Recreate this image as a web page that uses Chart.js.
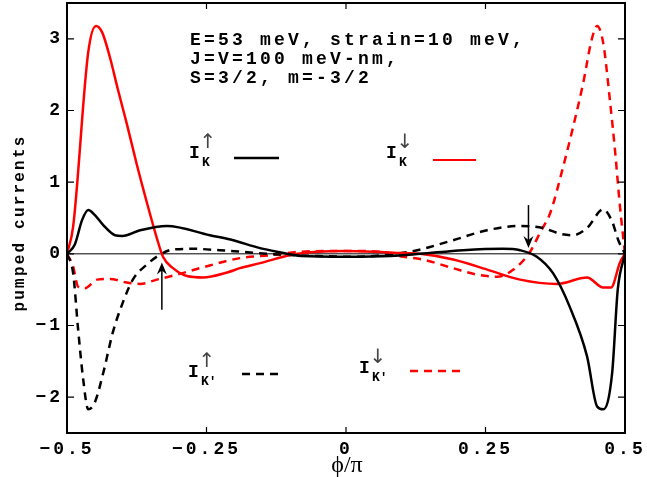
<!DOCTYPE html>
<html>
<head>
<meta charset="utf-8">
<script src="https://cdn.jsdelivr.net/npm/chart.js@4/dist/chart.umd.min.js"></script>
<style>
  body { margin: 0; background: #fff; }
  canvas { display: block; }
</style>
</head>
<body>
<canvas id="pumpChart" width="647" height="477"></canvas>
<script>
// tick positions
const xTicks = [-0.5, -0.25, 0, 0.25, 0.5];
const yTicks = [-2, -1, 0, 1, 2, 3];

// I_K up (black solid)
const phiKup = [-0.5, -0.486, -0.473, -0.462, -0.45, -0.435, -0.414, -0.401, -0.369, -0.321, -0.244, -0.207, -0.154, -0.124, -0.08, 0, 0.08, 0.133, 0.21, 0.281, 0.312, 0.342, 0.371, 0.401, 0.432, 0.45, 0.461, 0.477, 0.487, 0.5];
const iKup = [0, 0.13, 0.47, 0.61, 0.54, 0.40, 0.26, 0.25, 0.33, 0.39, 0.26, 0.20, 0.08, 0.03, -0.03, -0.04, -0.03, 0.0, 0.05, 0.07, 0.05, -0.04, -0.27, -0.74, -1.43, -2.13, -2.17, -1.66, -0.5, 0];

// I_K down (red solid)
const phiKdn = [-0.5, -0.489, -0.462, -0.448, -0.437, -0.423, -0.409, -0.393, -0.375, -0.357, -0.339, -0.328, -0.31, -0.285, -0.256, -0.213, -0.19, -0.154, -0.095, -0.05, 0, 0.05, 0.1, 0.133, 0.192, 0.253, 0.312, 0.378, 0.432, 0.461, 0.475, 0.491, 0.5];
const iKdn = [0, 0.38, 2.81, 3.18, 3.09, 2.74, 2.3, 1.82, 1.25, 0.72, 0.22, -0.04, -0.2, -0.31, -0.33, -0.26, -0.2, -0.13, -0.01, 0.03, 0.04, 0.03, 0.01, 0.0, -0.08, -0.22, -0.36, -0.42, -0.33, -0.47, -0.47, -0.12, 0];

// I_K' up (black dashed)
const phiKpUp = [-0.5, -0.489, -0.48, -0.471, -0.462, -0.45, -0.435, -0.418, -0.4, -0.382, -0.357, -0.333, -0.31, -0.274, -0.226, -0.19, -0.12, -0.05, 0, 0.05, 0.115, 0.138, 0.192, 0.253, 0.312, 0.353, 0.384, 0.407, 0.432, 0.461, 0.477, 0.488, 0.5];
const iKpUp = [0, -0.27, -1.06, -1.75, -2.17, -2.07, -1.66, -1.1, -0.68, -0.36, -0.15, -0.01, 0.06, 0.07, 0.05, 0.03, -0.01, -0.03, -0.04, -0.03, 0.03, 0.07, 0.19, 0.33, 0.39, 0.36, 0.28, 0.26, 0.36, 0.62, 0.45, 0.19, 0];

// I_K' down (red dashed)
const phiKpDn = [-0.5, -0.489, -0.48, -0.468, -0.446, -0.423, -0.393, -0.369, -0.339, -0.303, -0.262, -0.19, -0.136, -0.08, 0, 0.06, 0.102, 0.138, 0.192, 0.235, 0.271, 0.3, 0.33, 0.348, 0.366, 0.389, 0.407, 0.425, 0.44, 0.45, 0.461, 0.473, 0.482, 0.491, 0.5];
const iKpDn = [0, -0.18, -0.46, -0.48, -0.36, -0.35, -0.40, -0.42, -0.36, -0.29, -0.20, -0.06, -0.02, 0.03, 0.04, 0.03, -0.04, -0.08, -0.2, -0.29, -0.32, -0.22, 0.03, 0.3, 0.57, 1.21, 1.77, 2.38, 2.98, 3.18, 2.94, 2.14, 1.45, 0.66, 0];

const infoLines = ['E=53 meV, strain=10 meV,', 'J=V=100 meV-nm,', 'S=3/2, m=-3/2'];

const MONO = 'Liberation Mono, Courier New, monospace';

function pts(xs, ys) {
    return xs.map((x, i) => ({ x: x, y: ys[i] }));
}

function fmt(v) {
    return String(v).replace('-', '\u2212');
}

// frame, ticks, zero line, texts, arrows, legend
const decorPlugin = {
    id: 'decor',
    beforeDraw(chart) {
        chart.ctx.letterSpacing = '3px';
    },
    beforeDatasetsDraw(chart) {
        const ctx = chart.ctx;
        const a = chart.chartArea;
        const y0 = chart.scales.y.getPixelForValue(0);
        ctx.save();
        ctx.strokeStyle = '#000';
        ctx.lineWidth = 1;
        ctx.beginPath();
        ctx.moveTo(a.left, y0);
        ctx.lineTo(a.right, y0);
        ctx.stroke();
        ctx.restore();
    },
    afterDraw(chart) {
        const ctx = chart.ctx;
        const a = chart.chartArea;
        const xs = chart.scales.x, ys = chart.scales.y;
        ctx.save();
        ctx.strokeStyle = '#000';
        ctx.lineWidth = 2;
        ctx.strokeRect(a.left, a.top, a.right - a.left, a.bottom - a.top);
        ctx.lineWidth = 1.2;
        ctx.beginPath();
        xTicks.forEach(v => {
            const p = xs.getPixelForValue(v);
            ctx.moveTo(p, a.bottom); ctx.lineTo(p, a.bottom - 6);
            ctx.moveTo(p, a.top); ctx.lineTo(p, a.top + 6);
        });
        yTicks.forEach(v => {
            const p = ys.getPixelForValue(v);
            ctx.moveTo(a.left, p); ctx.lineTo(a.left + 7, p);
            ctx.moveTo(a.right, p); ctx.lineTo(a.right - 7, p);
        });
        ctx.stroke();

        // info text
        ctx.fillStyle = '#000';
        ctx.letterSpacing = '3.2px';
        ctx.font = 'bold 18px ' + MONO;
        ctx.textAlign = 'left';
        ctx.textBaseline = 'alphabetic';
        infoLines.forEach((t, i) => ctx.fillText(t, 190, 45 + i * 19));

        // axis titles
        ctx.letterSpacing = '2.2px';
        ctx.font = 'bold 16px ' + MONO;
        ctx.save();
        ctx.translate(24, 223);
        ctx.rotate(-Math.PI / 2);
        ctx.textAlign = 'center';
        ctx.fillText('pumped currents', 0, 0);
        ctx.restore();
        ctx.letterSpacing = '0px';
        ctx.font = '24px Liberation Serif, serif';
        ctx.textAlign = 'center';
        ctx.fillText('\u03d5/\u03c0', 347, 472);

        // legend entries
        drawEntry(ctx, 190, 158, 'K', '\u2191', '#000', [], 234, 279, 158, 2.5);
        drawEntry(ctx, 387, 158, 'K', '\u2193', '#f00', [], 433, 476, 160, 2);
        drawEntry(ctx, 189, 377, 'K\u2032', '\u2191', '#000', [8, 6], 242, 284, 374, 2.5);
        drawEntry(ctx, 360, 373, 'K\u2032', '\u2193', '#f00', [8, 6], 410, 464, 371, 2.5);

        // arrows
        drawArrow(ctx, xs.getPixelForValue(-0.33), ys.getPixelForValue(-0.78), ys.getPixelForValue(-0.12));
        drawArrow(ctx, xs.getPixelForValue(0.327), ys.getPixelForValue(0.68), ys.getPixelForValue(0.08));
        ctx.restore();
    }
};

function drawEntry(ctx, x, y, sub, arrow, color, dash, x1, x2, ly, lw) {
    ctx.save();
    ctx.fillStyle = '#000';
    ctx.textAlign = 'left';
    ctx.textBaseline = 'alphabetic';
    ctx.letterSpacing = '0px';
    ctx.font = 'bold 18px ' + MONO;
    ctx.fillText('I', x - 1, y);
    ctx.font = 'bold 13px ' + MONO;
    ctx.fillText(sub, x + 12, y + 8);
    ctx.fillStyle = '#444';
    ctx.font = '20px DejaVu Sans, sans-serif';
    ctx.textAlign = 'center';
    ctx.fillText(arrow, x + 18, y - 10);
    ctx.strokeStyle = color;
    ctx.lineWidth = lw;
    ctx.setLineDash(dash);
    ctx.beginPath();
    ctx.moveTo(x1, ly);
    ctx.lineTo(x2, ly);
    ctx.stroke();
    ctx.restore();
}

function drawArrow(ctx, x, yFrom, yTip) {
    const dir = yTip < yFrom ? -1 : 1;
    ctx.save();
    ctx.strokeStyle = '#000';
    ctx.fillStyle = '#000';
    ctx.lineWidth = 1.5;
    ctx.setLineDash([]);
    ctx.beginPath();
    ctx.moveTo(x, yFrom);
    ctx.lineTo(x, yTip - dir * 4);
    ctx.stroke();
    ctx.beginPath();
    ctx.moveTo(x, yTip);
    ctx.lineTo(x - 5, yTip - dir * 12);
    ctx.lineTo(x, yTip - dir * 8);
    ctx.lineTo(x + 5, yTip - dir * 12);
    ctx.closePath();
    ctx.fill();
    ctx.restore();
}

const ctx = document.getElementById('pumpChart').getContext('2d');
const pumpChart = new Chart(ctx, {
    type: 'line',
    data: {
        datasets: [
            { label: 'IK up', data: pts(phiKup, iKup), borderColor: '#000', borderWidth: 2.5 },
            { label: 'IK down', data: pts(phiKdn, iKdn), borderColor: '#f00', borderWidth: 2.5 },
            { label: "IK' up", data: pts(phiKpUp, iKpUp), borderColor: '#000', borderWidth: 2.5, borderDash: [8, 6] },
            { label: "IK' down", data: pts(phiKpDn, iKpDn), borderColor: '#f00', borderWidth: 2.5, borderDash: [8, 6] }
        ]
    },
    options: {
        responsive: false,
        animation: false,
        devicePixelRatio: 1,
        layout: { padding: { top: 3, right: 22, left: 0, bottom: 0 } },
        elements: {
            point: { radius: 0 },
            line: { cubicInterpolationMode: 'monotone', fill: false }
        },
        plugins: { legend: { display: false }, tooltip: { enabled: false } },
        scales: {
            x: {
                type: 'linear',
                min: -0.5, max: 0.5,
                afterBuildTicks: s => { s.ticks = xTicks.map(v => ({ value: v })); },
                afterFit: s => { s.height = 44; s.paddingLeft = 0; s.paddingRight = 0; },
                grid: { display: false },
                border: { display: false },
                ticks: {
                    callback: v => fmt(v),
                    color: '#000',
                    padding: -2,
                    maxRotation: 0,
                    autoSkip: false,
                    font: { family: MONO, size: 18, weight: 'bold' }
                }
            },
            y: {
                min: -2.5, max: 3.5,
                afterBuildTicks: s => { s.ticks = yTicks.map(v => ({ value: v })); },
                afterFit: s => { s.width = 67; s.paddingTop = 0; s.paddingBottom = 0; },
                grid: { display: false },
                border: { display: false },
                ticks: {
                    callback: v => fmt(v),
                    color: '#000',
                    padding: -4,
                    autoSkip: false,
                    font: { family: MONO, size: 18, weight: 'bold' }
                }
            }
        }
    },
    plugins: [decorPlugin]
});
</script>
</body>
</html>
